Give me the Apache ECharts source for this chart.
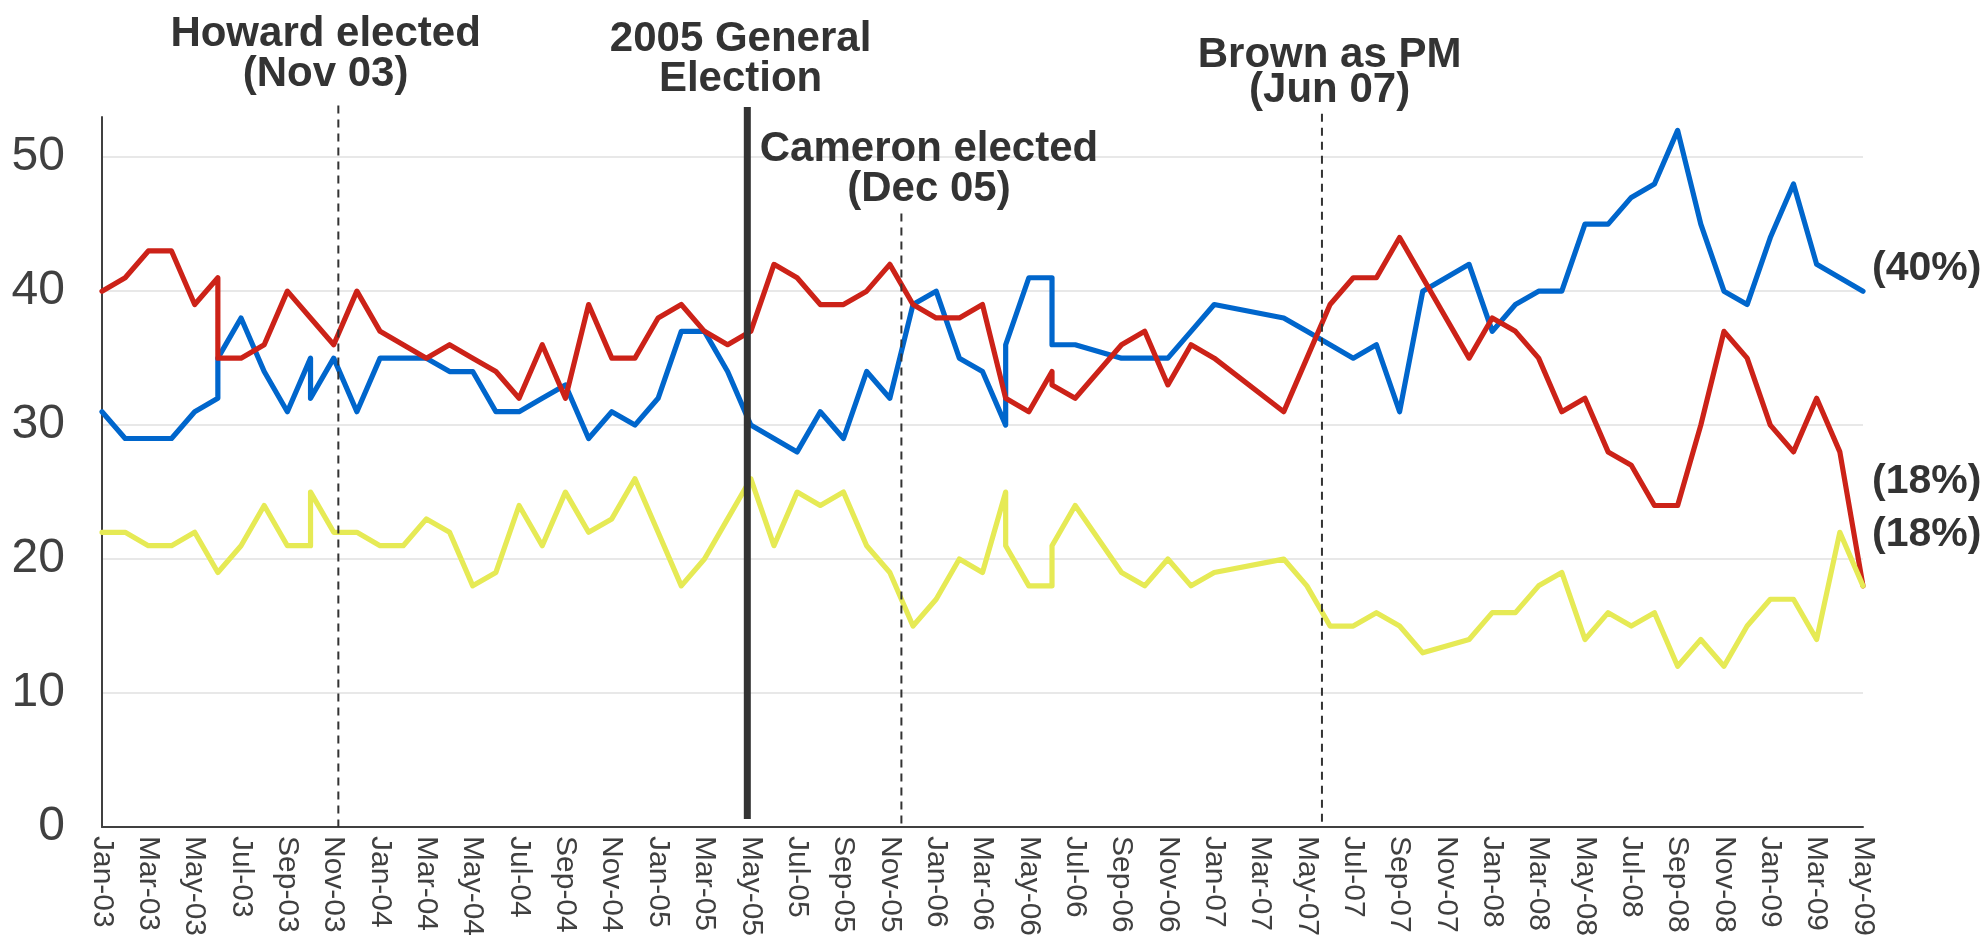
<!DOCTYPE html>
<html>
<head>
<meta charset="utf-8">
<script src="https://cdn.jsdelivr.net/npm/echarts@6/dist/echarts.min.js"></script>
<style>
html,body{margin:0;padding:0;background:#fff;}
#chart{width:1988px;height:950px;}
</style>
</head>
<body>
<div id="chart"></div>
<script>
// x position of each poll: months since Jan-03 (duplicates = two polls in one month)
const months = [0,1,2,3,4,5,5,6,7,8,9,9,10,11,12,13,14,15,16,17,18,19,20,21,22,23,24,25,26,27,28,29,30,31,32,33,34,35,36,37,38,39,39,40,41,41,42,44,45,46,47,48,51,52,53,54,55,56,57,59,60,61,62,63,64,65,66,67,68,69,70,71,72,73,74,75,76];
const con = [31,29,29,29,31,32,35,38,34,31,35,32,35,31,35,35,35,34,34,31,31,32,33,29,31,30,32,37,37,34,30,29,28,31,29,34,32,39,40,35,34,30,36,41,41,36,36,35,35,35,37,39,38,37,36,35,36,31,40,42,37,39,40,40,45,45,47,48,52,45,40,39,44,48,42,41,40];
const lab = [40,41,43,43,39,41,35,35,36,40,38,38,36,40,37,36,35,36,35,34,32,36,32,39,35,35,38,39,37,36,37,42,41,39,39,40,42,39,38,38,39,32,32,31,34,33,32,36,37,33,36,35,31,35,39,41,41,44,41,35,38,37,35,31,32,28,27,24,24,30,37,35,30,28,32,28,18];
const ld = [22,22,21,21,22,19,19,21,24,21,21,25,22,22,21,21,23,22,18,19,24,21,25,22,23,26,22,18,20,23,26,21,25,24,25,21,19,15,17,20,19,25,21,18,18,21,24,19,18,20,18,19,20,18,15,15,16,15,13,14,16,16,18,19,14,16,15,16,12,14,12,15,17,17,14,22,18];
const tickLabels = ['Jan-03','Mar-03','May-03','Jul-03','Sep-03','Nov-03','Jan-04','Mar-04','May-04','Jul-04','Sep-04','Nov-04','Jan-05','Mar-05','May-05','Jul-05','Sep-05','Nov-05','Jan-06','Mar-06','May-06','Jul-06','Sep-06','Nov-06','Jan-07','Mar-07','May-07','Jul-07','Sep-07','Nov-07','Jan-08','Mar-08','May-08','Jul-08','Sep-08','Nov-08','Jan-09','Mar-09','May-09'];
const yTicks = [0,10,20,30,40,50];
// event annotations (x in months since Jan-03, y in axis units)
const events = [
  {x:10.2, top:53.85, bottom:0, solid:false, tx:9.65, ty:60.65, lh:40, text:'Howard elected\n(Nov 03)'},
  {x:27.85, top:53.75, bottom:0.6, solid:true, tx:27.56, ty:60.3, lh:40, text:'2005 General\nElection'},
  {x:34.5, top:45.8, bottom:0, solid:false, tx:35.69, ty:52.1, lh:40, text:'Cameron elected\n(Dec 05)'},
  {x:52.65, top:53.25, bottom:0, solid:false, tx:52.98, ty:58.9, lh:35, text:'Brown as PM\n(Jun 07)'}
];

const FONT = '"Liberation Sans", Arial, Helvetica, sans-serif';
const chart = echarts.init(document.getElementById('chart'), null, {renderer:'canvas'});

function pairs(arr){ return months.map((m,i)=>[m, arr[i]]); }

function endLbl(dy){
  return {show:true, distance:9, offset:[0,dy], formatter:p=>'('+p.value[1]+'%)',
    fontFamily:FONT, fontSize:41, fontWeight:'bold', color:'#333333'};
}

const lineStyleBase = {width:5.2, cap:'round', join:'round'};

chart.setOption({
  animation:false,
  backgroundColor:'#ffffff',
  grid:{left:102, right:125, top:117, bottom:123, containLabel:false},
  xAxis:{
    type:'value', min:0, max:76, interval:2,
    axisLine:{show:true, onZero:false, lineStyle:{color:'#404040', width:2}},
    axisTick:{show:false},
    splitLine:{show:false},
    axisLabel:{rotate:-90, margin:9, fontFamily:FONT, fontSize:30, color:'#404040',
      formatter:v=>tickLabels[Math.round(v/2)] || ''}
  },
  yAxis:{
    type:'value', min:0, max:53, interval:10,
    axisLine:{show:true, lineStyle:{color:'#404040', width:2}},
    axisTick:{show:false},
    splitLine:{show:true, showMaxLine:false, lineStyle:{color:'#e8e8e8', width:2}},
    axisLabel:{margin:37, fontFamily:FONT, fontSize:48, color:'#404040', showMaxLabel:false,
      formatter:v=>yTicks.indexOf(v)>=0 ? String(v) : ''}
  },
  series:[
    {name:'Con', type:'line', data:pairs(con), showSymbol:false, symbol:'none',
      lineStyle:Object.assign({color:'#0066cc'}, lineStyleBase), itemStyle:{color:'#0066cc'},
      endLabel:endLbl(-22), z:3},
    {name:'Lab', type:'line', data:pairs(lab), showSymbol:false, symbol:'none',
      lineStyle:Object.assign({color:'#cc2218'}, lineStyleBase), itemStyle:{color:'#cc2218'},
      endLabel:endLbl(-104), z:4},
    {name:'LD', type:'line', data:pairs(ld), showSymbol:false, symbol:'none',
      lineStyle:Object.assign({color:'#e6ea55'}, lineStyleBase), itemStyle:{color:'#e6ea55'},
      endLabel:endLbl(-51), z:5},
    {name:'events', type:'custom', clip:false, z:6, silent:true,
      data:events.map(e=>[e.x]),
      renderItem:function(params, api){
        const e = events[params.dataIndex];
        const p1 = api.coord([e.x, e.top]);
        const p2 = api.coord([e.x, e.bottom]);
        const pt = api.coord([e.tx, e.ty]);
        return {type:'group', children:[
          {type:'line', shape:{x1:p1[0], y1:p1[1], x2:p2[0], y2:p2[1]},
            style:{stroke:'#333333', lineWidth:e.solid?7:2, lineDash:e.solid?null:[8,6]}},
          {type:'text', x:pt[0], y:pt[1],
            style:{text:e.text, fill:'#333333', font:'bold 42px '+FONT, align:'center', verticalAlign:'top', lineHeight:e.lh}}
        ]};
      }
    }
  ]
});
</script>
</body>
</html>
